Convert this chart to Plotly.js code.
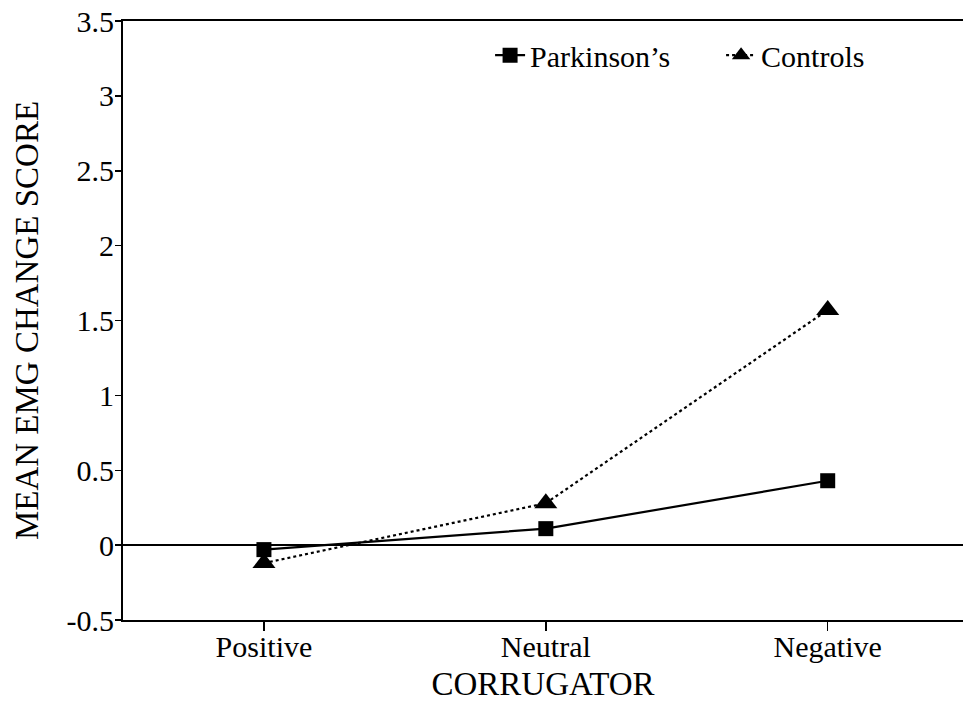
<!DOCTYPE html>
<html>
<head>
<meta charset="utf-8">
<script src="https://cdn.plot.ly/plotly-3.0.1.min.js"></script>
<style>html,body{margin:0;padding:0;background:#fff;}#chart{width:963px;height:723px;}</style>
</head>
<body>
<div id="chart"></div>
<script>
const categories = ["Positive", "Neutral", "Negative"];
const parkinsons = [-0.03, 0.11, 0.43];
const controls = [-0.12, 0.28, 1.57];
const yTickVals = [-0.5, 0, 0.5, 1, 1.5, 2, 2.5, 3, 3.5];
const yTickText = ["-0.5", "0", "0.5", "1", "1.5", "2", "2.5", "3", "3.5"];

const serif = 'Liberation Serif, Times New Roman, serif';

const traces = [
  {
    x: categories, y: parkinsons, name: "Parkinson\u2019s", type: "scatter", mode: "lines+markers",
    line: {color: "#000", width: 2.2, dash: "solid"},
    marker: {symbol: "square", size: 15, color: "#000"}
  },
  {
    x: categories, y: controls, name: "Controls", type: "scatter", mode: "lines+markers",
    line: {color: "#000", width: 2.2, dash: "dot"},
    marker: {symbol: "triangle-up", size: 20, color: "#000"}
  }
];

const layout = {
  width: 963, height: 723,
  margin: {l: 123, r: 0, t: 21, b: 103, autoexpand: false},
  paper_bgcolor: "#fff", plot_bgcolor: "#fff",
  font: {family: serif, color: "#000", size: 30},
  showlegend: true,
  legend: {
    orientation: "h", x: 0.437, xanchor: "left", y: 0.943, yanchor: "middle",
    entrywidth: 186, entrywidthmode: "pixels",
    font: {family: serif, size: 30, color: "#000"}, bgcolor: "rgba(0,0,0,0)"
  },
  xaxis: {
    type: "category", range: [-0.5, 2.48],
    showline: true, linecolor: "#000", linewidth: 2, mirror: true,
    ticks: "outside", ticklen: 9, tickwidth: 1.5, tickcolor: "#000",
    ticklabelstandoff: -10,
    showgrid: false, zeroline: false,
    tickfont: {family: serif, size: 30, color: "#000"},
    title: {text: "CORRUGATOR", font: {family: serif, size: 33, color: "#000"}, standoff: 10}
  },
  yaxis: {
    range: [-0.5, 3.5], tickvals: yTickVals, ticktext: yTickText,
    showline: true, linecolor: "#000", linewidth: 2,
    ticks: "outside", ticklen: 6, tickwidth: 1.5, tickcolor: "#000",
    ticklabelstandoff: -5,
    showgrid: false, zeroline: true, zerolinecolor: "#000", zerolinewidth: 2,
    tickfont: {family: serif, size: 30, color: "#000"},
    title: {text: "MEAN EMG CHANGE SCORE", font: {family: serif, size: 33, color: "#000"}, standoff: 18}
  }
};

Plotly.newPlot("chart", traces, layout, {displayModeBar: false, staticPlot: true});
</script>
</body>
</html>
